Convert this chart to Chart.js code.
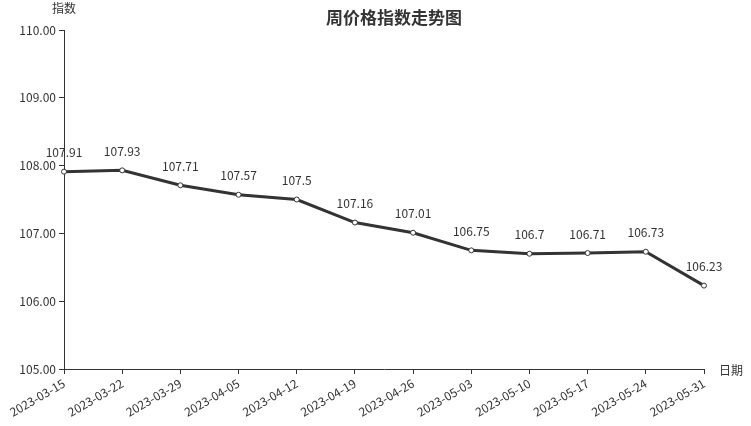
<!DOCTYPE html>
<html>
<head>
<meta charset="utf-8">
<script src="https://cdn.jsdelivr.net/npm/chart.js@4"></script>
<style>
  body { margin: 0; background: #fff; }
  #wrap { width: 751px; height: 426px; }
</style>
</head>
<body>
<div id="wrap"><canvas id="c"></canvas></div>
<script>
// 周价格指数
const dates = ['2023-03-15', '2023-03-22', '2023-03-29', '2023-04-05', '2023-04-12', '2023-04-19',
  '2023-04-26', '2023-05-03', '2023-05-10', '2023-05-17', '2023-05-24', '2023-05-31'];
const indexValues = [107.91, 107.93, 107.71, 107.57, 107.5, 107.16, 107.01, 106.75, 106.7, 106.71, 106.73, 106.23];
const yMin = 105, yMax = 110, yStep = 1;

const FONT = '"Noto Sans CJK SC", "Noto Sans", sans-serif';
const INK = '#333';

// titulo, nombres de ejes y etiquetas de valores
const extras = {
  id: 'extras',
  afterDatasetsDraw(chart) {
    const ctx = chart.ctx;
    const area = chart.chartArea;
    ctx.save();
    ctx.fillStyle = INK;
    ctx.textAlign = 'center';
    ctx.textBaseline = 'middle';
    ctx.font = '12px ' + FONT;
    chart.getDatasetMeta(0).data.forEach((pt, i) => {
      ctx.fillText(String(indexValues[i]), pt.x, pt.y - 19);
    });
    ctx.fillText('指数', area.left, 8);
    ctx.textAlign = 'left';
    ctx.fillText('日期', area.right + 15, area.bottom + 1);
    ctx.textAlign = 'center';
    ctx.font = 'bold 17px ' + FONT;
    ctx.fillText('周价格指数走势图', 394, 18);
    ctx.restore();
  }
};

new Chart(document.getElementById('c'), {
  type: 'line',
  data: {
    labels: dates,
    datasets: [{
      data: indexValues,
      borderColor: INK,
      borderWidth: 3,
      pointRadius: 2.5,
      pointBorderWidth: 1,
      pointBackgroundColor: '#fff',
      pointBorderColor: INK,
      tension: 0
    }]
  },
  options: {
    responsive: true,
    maintainAspectRatio: false,
    animation: false,
    layout: { padding: { top: 30, right: 47, left: 0, bottom: 0 } },
    plugins: { legend: { display: false }, tooltip: { enabled: false } },
    scales: {
      x: {
        offset: false,
        grid: { drawOnChartArea: false, tickLength: 5, color: INK },
        border: { color: INK, width: 1 },
        ticks: { color: INK, font: { family: FONT, size: 12 }, minRotation: 30, maxRotation: 30, padding: 2, autoSkip: false },
        afterFit(s) { s.height = 57; }
      },
      y: {
        min: yMin, max: yMax,
        grid: { drawOnChartArea: false, tickLength: 5, color: INK },
        border: { color: INK, width: 1 },
        ticks: { stepSize: yStep, color: INK, font: { family: FONT, size: 12 }, padding: 3,
          callback: v => v.toFixed(2) },
        afterFit(s) { s.width = 64; }
      }
    }
  },
  plugins: [extras]
});
</script>
</body>
</html>
